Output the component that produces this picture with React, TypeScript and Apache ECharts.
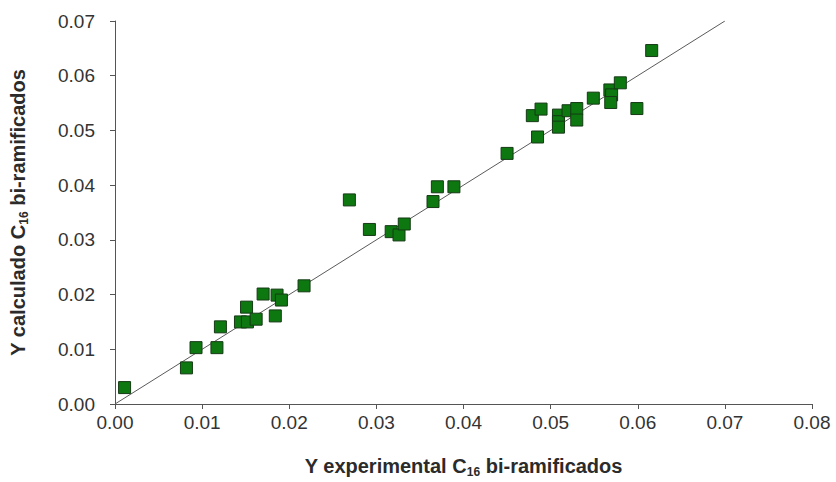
import React, { useEffect, useRef } from "react";
import * as echarts from "echarts";

const expValues = [
  0.0011, 0.0082, 0.0093, 0.0117, 0.0121, 0.0144, 0.0152, 0.0151, 0.0162, 0.0170,
  0.0186, 0.0191, 0.0184, 0.0217, 0.0269, 0.0292, 0.0317, 0.0326, 0.0332, 0.0365,
  0.0370, 0.0389, 0.0450, 0.0485, 0.0479, 0.0489, 0.0509, 0.0509, 0.0509, 0.0520,
  0.0530, 0.0530, 0.0549, 0.0568, 0.0570, 0.0569, 0.0580, 0.0599, 0.0616,
];
const calcValues = [
  0.0030, 0.0066, 0.0103, 0.0103, 0.0141, 0.0150, 0.0150, 0.0177, 0.0155, 0.0201,
  0.0199, 0.0190, 0.0161, 0.0216, 0.0373, 0.0319, 0.0315, 0.0309, 0.0329, 0.0370,
  0.0397, 0.0397, 0.0458, 0.0488, 0.0527, 0.0539, 0.0528, 0.0516, 0.0506, 0.0536,
  0.0540, 0.0519, 0.0559, 0.0574, 0.0565, 0.0551, 0.0587, 0.0540, 0.0646,
];
const identityLine = [
  [0, 0],
  [0.07, 0.07],
];
const xAxisTitle = "Y experimental C{sub|16} bi-ramificados";
const yAxisTitle = "Y calculado C{sub|16} bi-ramificados";

const FONT = "'Liberation Sans', Arial, sans-serif";

export default function App() {
  const ref = useRef<HTMLDivElement>(null);
  useEffect(() => {
    document.body.style.margin = "0";
    if (!ref.current) return;
    const chart = echarts.init(ref.current, null, { renderer: "svg" });
    const nameStyle = {
      fontFamily: FONT,
      fontSize: 20,
      fontWeight: "bold" as const,
      color: "#2b2b2b",
      lineHeight: 24,
      rich: {
        sub: {
          fontFamily: FONT,
          fontSize: 12,
          fontWeight: "bold" as const,
          color: "#2b2b2b",
          lineHeight: 12,
          verticalAlign: "bottom" as const,
        },
      },
    };
    const axisCommon = {
      axisLine: { show: true, lineStyle: { color: "#555", width: 1 } },
      axisTick: { show: true, length: 5, lineStyle: { color: "#555" } },
      splitLine: { show: false },
    };
    chart.setOption({
      animation: false,
      backgroundColor: "#fff",
      grid: {
        left: 115,
        right: 24,
        top: 21,
        bottom: 78,
        containLabel: false,
        outerBoundsMode: "none",
      },
      xAxis: {
        type: "value",
        min: 0,
        max: 0.08,
        interval: 0.01,
        name: xAxisTitle,
        nameLocation: "middle",
        nameGap: 50,
        nameTextStyle: nameStyle,
        axisLabel: {
          fontFamily: FONT,
          fontSize: 19,
          color: "#333",
          margin: 9,
          formatter: (v: number) => v.toFixed(2),
        },
        ...axisCommon,
      },
      yAxis: {
        type: "value",
        min: 0,
        max: 0.07,
        interval: 0.01,
        name: yAxisTitle,
        nameLocation: "middle",
        nameGap: 85,
        nameRotate: 90,
        nameTextStyle: nameStyle,
        axisLabel: {
          fontFamily: FONT,
          fontSize: 19,
          color: "#333",
          margin: 20,
          formatter: (v: number) => v.toFixed(2),
        },
        ...axisCommon,
      },
      series: [
        {
          type: "line",
          data: identityLine,
          symbol: "none",
          lineStyle: { color: "#5a5a5a", width: 1 },
          z: 1,
          silent: true,
        },
        {
          type: "scatter",
          data: expValues.map((x, i) => [x, calcValues[i]]),
          symbol: "rect",
          symbolSize: 12,
          itemStyle: {
            color: "#0c780f",
            borderColor: "#163a16",
            borderWidth: 1,
            opacity: 1,
          },
          z: 2,
        },
      ],
    });
    return () => chart.dispose();
  }, []);
  return <div ref={ref} style={{ width: 836, height: 482 }} />;
}
